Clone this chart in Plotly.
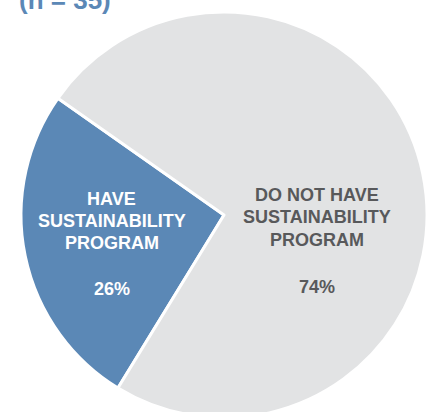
import plotly.graph_objects as go

# Data
categories = ["HAVE SUSTAINABILITY PROGRAM", "DO NOT HAVE SUSTAINABILITY PROGRAM"]
category_lines = [["HAVE", "SUSTAINABILITY", "PROGRAM"], ["DO NOT HAVE", "SUSTAINABILITY", "PROGRAM"]]
values = [26, 74]
pct_labels = ["26%", "74%"]
colors = ["#5b88b6", "#e2e3e4"]
text_colors = ["#ffffff", "#58595b"]
title_text = "(n = 35)"

# figure is slightly taller than the 412px window; the pie runs off the bottom edge
W, H = 438, 419
cx, cy, r = 224, 215, 203

fig = go.Figure()
fig.add_trace(go.Pie(
    values=values,
    labels=categories,
    sort=False,
    direction="clockwise",
    rotation=211.5,
    textinfo="none",
    hoverinfo="none",
    marker=dict(colors=colors, line=dict(color="#ffffff", width=3)),
    domain=dict(x=[(cx - r) / W, (cx + r) / W],
                y=[max(0, 1 - (cy + r) / H), 1 - (cy - r) / H]),
    showlegend=False,
))

FONT = "Liberation Sans, Arial, sans-serif"
label_x = [111.5, 316.5]
label_line_y = [[199, 221, 243], [195, 217.5, 240]]
pct_y = [289, 287]

annotations = []
for lines, pct, tc, lx, lys, py in zip(category_lines, pct_labels, text_colors, label_x, label_line_y, pct_y):
    for line, ly in zip(lines + [pct], lys + [py]):
        annotations.append(dict(
            text="<b>" + line + "</b>",
            x=lx / W, y=1 - ly / H, xref="paper", yref="paper",
            xanchor="center", yanchor="middle", showarrow=False,
            font=dict(family=FONT, size=18, color=tc),
        ))
annotations.append(dict(
    text="<b>" + title_text + "</b>",
    x=17 / W, y=1.0, xref="paper", yref="paper",
    xanchor="left", yanchor="middle", showarrow=False,
    font=dict(family=FONT, size=26, color="#5b88b6"),
))

fig.update_layout(
    width=W, height=H,
    margin=dict(l=0, r=0, t=0, b=0),
    paper_bgcolor="#ffffff",
    plot_bgcolor="#ffffff",
    annotations=annotations,
)
fig.write_html(
    "out.html",
    config={"displayModeBar": False},
    post_script="document.documentElement.style.overflow='hidden';document.body.style.overflow='hidden';",
)
